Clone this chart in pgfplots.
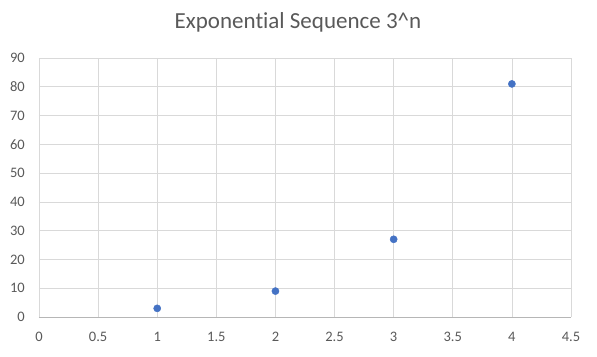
\documentclass[border=0pt]{standalone}
\usepackage{pgfplots}
\pgfplotsset{compat=1.18}
\usepackage{fontspec}
\setmainfont{Carlito}[Ligatures={NoCommon}]
\definecolor{txt}{HTML}{595959}
\definecolor{grid}{HTML}{D9D9D9}
\definecolor{dot}{HTML}{4472C4}
\begin{document}
\begin{tikzpicture}
\path[use as bounding box] (-39bp,-40bp) rectangle (558bp,317bp);
\begin{axis}[
  at={(0,0)}, anchor=south west,
  scale only axis, width=532bp, height=259bp,
  xmin=0, xmax=4.5, ymin=0, ymax=90,
  xtick={0,0.5,...,4.5}, ytick={0,10,...,90},
  grid=major,
  major grid style={draw=grid, line width=0.75bp},
  axis line style={draw=none},
  tick style={draw=none},
  /pgf/number format/assume math mode=true,
  ticklabel style={font=\fontsize{14.5bp}{16bp}\selectfont, text=txt, inner sep=0pt},
  xticklabel style={anchor=north, yshift=-15bp},
  yticklabel style={anchor=east, xshift=-14bp},
  xticklabels={0,0.5,1,1.5,2,2.5,3,3.5,4,4.5},
  yticklabels={0,10,20,30,40,50,60,70,80,90},
  clip=false,
]
\draw[draw=grid!80!black!90, line width=0.75bp] (axis cs:0,0) -- (axis cs:4.5,0);
\addplot[only marks, mark=*, mark size=3.6bp, mark options={draw=dot, fill=dot}]
  coordinates {(1,3) (2,9) (3,27) (4,81)};
\end{axis}
\node[text=txt, font=\fontsize{23bp}{27bp}\selectfont] at (259bp,295bp) {Exponential Sequence 3\^{}n};
\end{tikzpicture}
\end{document}
